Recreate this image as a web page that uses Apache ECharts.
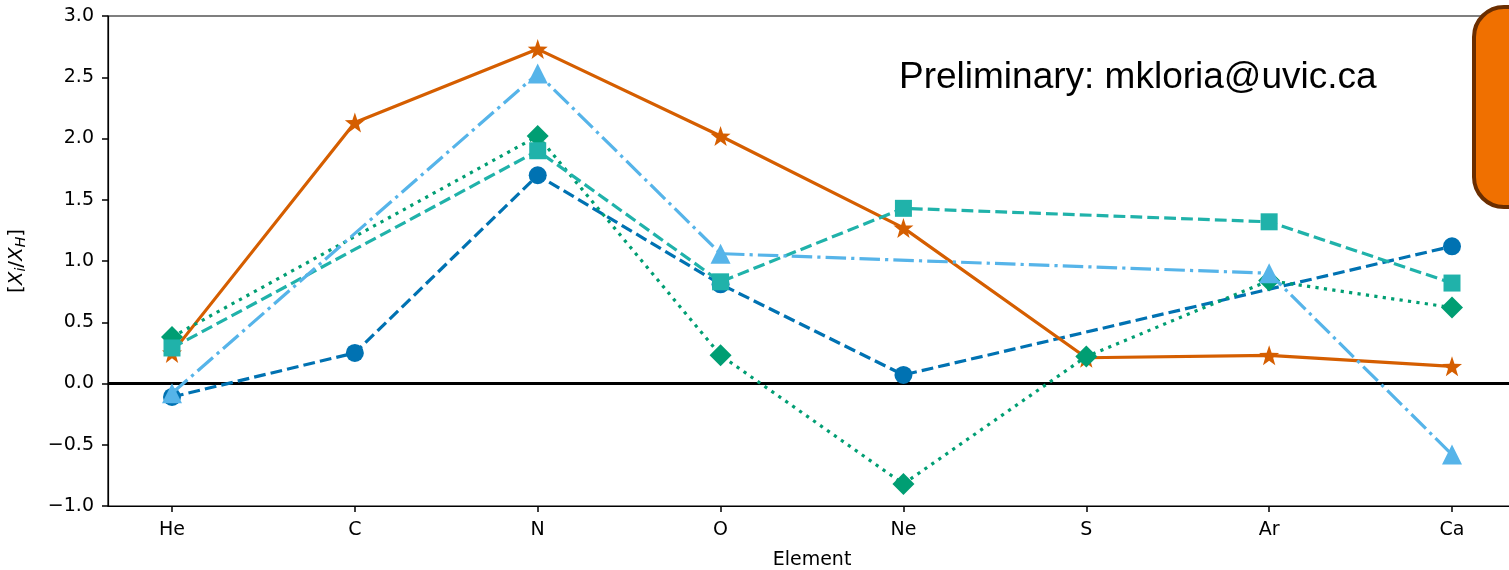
<!DOCTYPE html>
<html>
<head>
<meta charset="utf-8">
<script src="https://cdn.jsdelivr.net/npm/echarts@6/dist/echarts.min.js"></script>
<style>
html, body { margin: 0; padding: 0; background: #fff; }
#chart { width: 1509px; height: 570px; }
</style>
</head>
<body>
<div id="chart"></div>
<script>
var elements = ['He', 'C', 'N', 'O', 'Ne', 'S', 'Ar', 'Ca'];

// null = element not measured for that model
var blueCircle = [-0.11, 0.25, 1.70, 0.81, 0.07, null, null, 1.12];
var orangeStar = [0.25, 2.13, 2.73, 2.02, 1.27, 0.21, 0.23, 0.14];
var greenDiamond = [0.38, null, 2.02, 0.23, -0.82, 0.22, 0.84, 0.62];
var tealSquare = [0.29, null, 1.90, 0.83, 1.43, null, 1.32, 0.82];
var skyTriangle = [-0.08, null, 2.53, 1.06, null, null, 0.90, -0.58];

var STAR = 'path://M0,-10L2.35,-3.24L9.51,-3.09L3.8,1.24L5.88,8.09L0,4L-5.88,8.09L-3.8,1.24L-9.51,-3.09L-2.35,-3.24Z';
var LW = 3.2;

function toPoints(values) {
	var pts = [];
	values.forEach(function(v, i) {
		if (v !== null) pts.push([i, v]);
	});
	return pts;
}

function makeSeries(name, values, color, lineType, symbol, size, z) {
	return {
		name: name,
		type: 'line',
		data: toPoints(values),
		symbol: symbol,
		symbolSize: size,
		showAllSymbol: true,
		z: z,
		itemStyle: { color: color, borderWidth: 0 },
		lineStyle: { color: color, width: LW, type: lineType, cap: 'butt' },
		emphasis: { disabled: true },
		animation: false
	};
}

var series = [
	makeSeries('circle', blueCircle, '#0072b2', [11.8, 5.1], 'circle', 18, 2),
	makeSeries('star', orangeStar, '#d55e00', 'solid', STAR, 20, 3),
	makeSeries('diamond', greenDiamond, '#009e73', [3.2, 5.3], 'diamond', 22, 4),
	makeSeries('square', tealSquare, '#20b2aa', [11.8, 5.1], 'rect', 17, 5),
	makeSeries('triangle', skyTriangle, '#56b4e9', [20.5, 5.1, 3.2, 5.1], 'triangle', 20, 6)
];

series[0].markLine = {
	silent: true,
	symbol: 'none',
	label: { show: false },
	lineStyle: { color: '#000', width: 3, type: 'solid' },
	data: [{ yAxis: 0 }],
	z: 1
};

var chart = echarts.init(document.getElementById('chart'), null, { renderer: 'canvas' });

chart.setOption({
	backgroundColor: '#fff',
	animation: false,
	textStyle: { fontFamily: 'DejaVu Sans' },
	grid: {
		left: 108,
		top: 16,
		width: 1408,
		height: 490,
		containLabel: false,
		outerBoundsMode: 'none',
		show: true,
		borderColor: '#000',
		borderWidth: 1.2,
		backgroundColor: 'transparent'
	},
	xAxis: {
		type: 'value',
		min: -0.35,
		max: 7.35,
		interval: 1,
		name: 'Element',
		nameLocation: 'middle',
		nameGap: 45,
		nameTextStyle: { fontSize: 19, color: '#000', fontFamily: 'DejaVu Sans' },
		splitLine: { show: false },
		axisLine: { show: true, onZero: false, lineStyle: { color: '#000', width: 1.2 } },
		axisTick: { show: true, length: 6, lineStyle: { color: '#000', width: 1.5 }, customValues: elements.map(function(e, i) { return i; }) },
		axisLabel: {
			color: '#000',
			fontSize: 19,
			margin: 15,
			customValues: elements.map(function(e, i) { return i; }),
			formatter: function(v) { return elements[Math.round(v)] || ''; }
		}
	},
	yAxis: {
		type: 'value',
		min: -1,
		max: 3,
		interval: 0.5,
		name: '{b|[}{i|X}{s|i}{b|/}{i|X}{s|H}{b|]}',
		nameLocation: 'middle',
		nameRotate: 90,
		nameGap: 80,
		nameTextStyle: {
			color: '#000',
			rich: {
				b: { fontSize: 20, color: '#000', fontFamily: 'DejaVu Sans' },
				i: { fontSize: 20, color: '#000', fontStyle: 'italic', fontFamily: 'DejaVu Sans' },
				s: { fontSize: 14, color: '#000', fontStyle: 'italic', fontFamily: 'DejaVu Sans', padding: [9, 0, 0, 0] }
			}
		},
		splitLine: { show: false },
		axisLine: { show: true, onZero: false, lineStyle: { color: '#000', width: 1.2 } },
		axisTick: { show: true, inside: false, length: 6, lineStyle: { color: '#000', width: 1.5 } },
		axisLabel: {
			color: '#000',
			fontSize: 19,
			margin: 14,
			formatter: function(v) { return v.toFixed(1).replace('-', '\u2212'); }
		}
	},
	series: series,
	graphic: [
		{
			type: 'text',
			left: 899,
			top: 59,
			z: 100,
			style: {
				text: 'Preliminary: mkloria@uvic.ca',
				fontSize: 37,
				fontFamily: 'Liberation Sans',
				fill: '#000'
			}
		},
		{
			type: 'rect',
			z: 100,
			shape: { x: 1474, y: 7, width: 120, height: 200, r: 30 },
			style: { fill: '#f07000', stroke: '#6b2e00', lineWidth: 4 }
		}
	]
});
</script>
</body>
</html>
